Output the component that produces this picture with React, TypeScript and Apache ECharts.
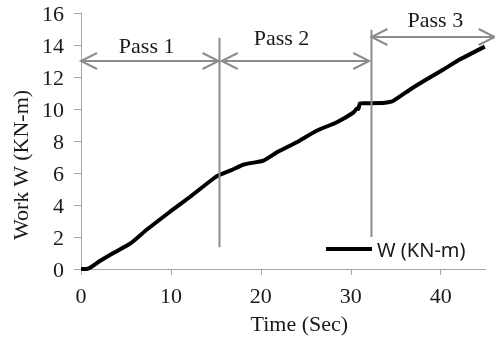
import React, { useEffect, useRef } from "react";
import * as echarts from "echarts";

// Curve: work W (KN-m) versus time (s)
const timeSec = [0, 0.5, 1.0, 2.1, 3.6, 5.5, 7.3, 9.9, 12.1, 14.7, 15.4, 16.8, 18.1, 20.3, 21.8, 24.0, 26.2, 28.4, 30.3, 30.7, 30.85, 31.0, 31.4, 33.6, 34.7, 36.6, 38.4, 40.3, 42.1, 44.9];
const workKNm = [0, 0, 0.08, 0.5, 1.0, 1.6, 2.45, 3.58, 4.5, 5.64, 5.88, 6.2, 6.53, 6.78, 7.3, 7.92, 8.64, 9.16, 9.78, 10.05, 10.0, 10.35, 10.36, 10.37, 10.5, 11.22, 11.84, 12.47, 13.09, 13.9];

// Pass boundaries (vertical lines)
const boundaryTime = [15.4, 32.3];
const boundaryTop = [14.45, 14.95];
const boundaryBottom = [1.36, 2.0];

// Pass arrows
const arrowStart = [0, 15.65, 32.3];
const arrowEnd = [15.3, 32.05, 46];
const arrowLevel = [13, 13, 14.5];

// Pass labels
const passLabels = ["Pass 1", "Pass 2", "Pass 3"];
const passLabelX = [7.3, 22.3, 39.4];
const passLabelY = [14.0, 14.45, 15.57];

const xTicks = [0, 10, 20, 30, 40];

const SERIF = "'Liberation Serif', 'Times New Roman', serif";
const GRAY = "#8c8c8c";
const AXIS = "#a6a6a6";
const TXT = "#1a1a1a";

export default function App() {
  const ref = useRef<HTMLDivElement>(null);
  useEffect(() => {
    if (!ref.current) return;
    const chart = echarts.init(ref.current, null, { renderer: "svg" });
    const curve = timeSec.map((t, i) => [t, workKNm[i]]);
    const bounds = boundaryTime.map((t, i) => [t, boundaryBottom[i], boundaryTop[i]]);
    const arrows = arrowStart.map((s, i) => [s, arrowEnd[i], arrowLevel[i]]);
    const labels = passLabelX.map((x, i) => [x, passLabelY[i]]);
    const st = { stroke: GRAY, lineWidth: 2, fill: "none" };
    const H = 16;
    const W = 8;
    chart.setOption({
      animation: false,
      grid: { left: 81, right: 9.3, top: 13, bottom: 68 },
      legend: {
        data: ["W (KN-m)"],
        left: 326,
        top: 238,
        padding: 0,
        icon: "rect",
        itemWidth: 46,
        itemHeight: 4,
        itemGap: 5,
        itemStyle: { color: "#000" },
        textStyle: { fontFamily: "'Noto Sans', sans-serif", fontSize: 20, color: TXT, lineHeight: 22 },
      },
      xAxis: {
        type: "value",
        min: 0,
        max: 45,
        interval: 10,
        name: "Time (Sec)",
        nameLocation: "middle",
        nameGap: 43,
        nameTextStyle: { fontFamily: SERIF, fontSize: 22, color: TXT, padding: [0, 0, 0, 32] },
        splitLine: { show: false },
        axisLine: { lineStyle: { color: AXIS, width: 1 } },
        axisTick: { show: true, length: 6, lineStyle: { color: AXIS }, customValues: xTicks },
        axisLabel: { fontFamily: SERIF, fontSize: 22, color: TXT, margin: 15, customValues: xTicks },
      },
      yAxis: {
        type: "value",
        min: 0,
        max: 16,
        interval: 2,
        name: "Work W (KN-m)",
        nameLocation: "middle",
        nameGap: 48,
        nameTextStyle: { fontFamily: SERIF, fontSize: 22, color: TXT, padding: [0, 48, 0, 0] },
        splitLine: { show: false },
        axisLine: { show: true, lineStyle: { color: AXIS, width: 1 } },
        axisTick: { show: true, length: 7, lineStyle: { color: AXIS } },
        axisLabel: { fontFamily: SERIF, fontSize: 22, color: TXT, margin: 17 },
      },
      series: [
        {
          name: "W (KN-m)",
          type: "line",
          data: curve,
          showSymbol: false,
          symbol: "none",
          smooth: 0.15,
          lineStyle: { color: "#000", width: 4 },
          itemStyle: { color: "#000" },
          z: 2,
        },
        {
          type: "custom",
          clip: false,
          z: 5,
          data: bounds,
          encode: { x: 0, y: [1, 2] },
          renderItem: (params: any, api: any) => {
            const b = api.coord([api.value(0), api.value(1)]);
            const t = api.coord([api.value(0), api.value(2)]);
            return { type: "line", shape: { x1: b[0], y1: b[1], x2: t[0], y2: t[1] }, style: st };
          },
        },
        {
          type: "custom",
          clip: false,
          z: 5,
          data: arrows,
          encode: { x: [0, 1], y: 2 },
          renderItem: (params: any, api: any) => {
            const s = api.coord([api.value(0), api.value(2)]);
            const e = api.coord([api.value(1), api.value(2)]);
            return {
              type: "group",
              children: [
                { type: "line", shape: { x1: s[0], y1: s[1], x2: e[0], y2: e[1] }, style: st },
                { type: "polyline", shape: { points: [[s[0] + H, s[1] - W], [s[0], s[1]], [s[0] + H, s[1] + W]] }, style: st },
                { type: "polyline", shape: { points: [[e[0] - H, e[1] - W], [e[0], e[1]], [e[0] - H, e[1] + W]] }, style: st },
              ],
            };
          },
        },
        {
          type: "custom",
          clip: false,
          z: 5,
          data: labels,
          encode: { x: 0, y: 1 },
          renderItem: (params: any, api: any) => {
            const p = api.coord([api.value(0), api.value(1)]);
            return {
              type: "text",
              x: p[0],
              y: p[1],
              style: {
                text: passLabels[params.dataIndex],
                fontFamily: SERIF,
                fontSize: 22,
                fill: TXT,
                align: "center",
                verticalAlign: "middle",
              },
            };
          },
        },
      ],
    });
    return () => chart.dispose();
  }, []);
  return <div ref={ref} style={{ position: "fixed", left: 0, top: 0, width: 495, height: 339 }} />;
}
